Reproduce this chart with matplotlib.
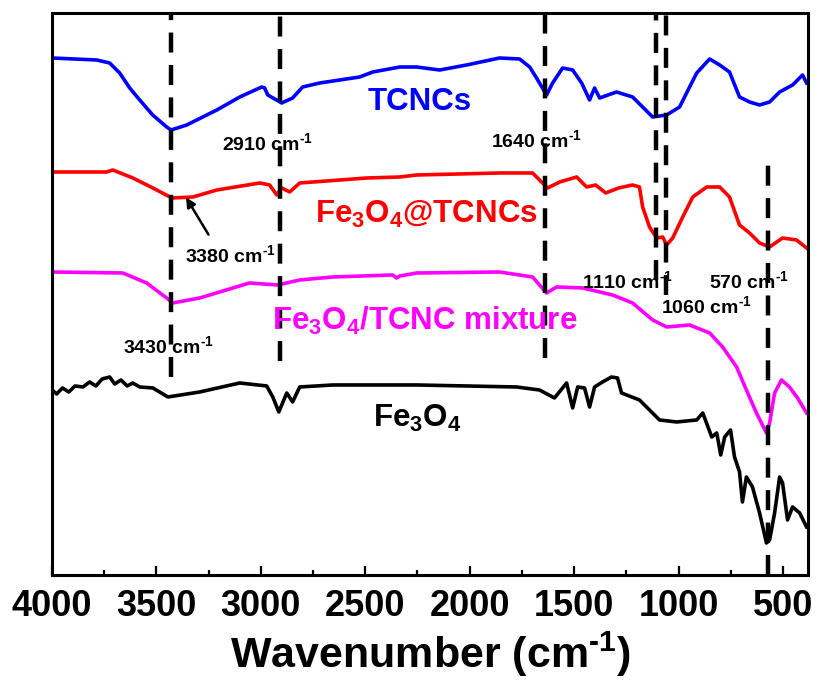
import matplotlib
matplotlib.use("Agg")
import matplotlib.pyplot as plt

# FTIR spectra, stacked with offsets (transmittance in a.u.)
wn_tcnc = [4000, 3786, 3724, 3676, 3628, 3580, 3518, 3451, 3430, 3355, 3211, 3101,
           2996, 2982, 2967, 2900, 2848, 2800, 2718, 2527, 2464, 2335, 2254, 2144,
           2015, 1857, 1761, 1713, 1680, 1632, 1603, 1555, 1507, 1464, 1426, 1402,
           1378, 1297, 1220, 1172, 1124, 1057, 995, 947, 913, 851, 803, 756, 708,
           660, 612, 564, 516, 454, 406, 387]
t_tcnc = [517, 515, 512, 502, 487, 475, 460, 448, 445, 450, 465, 478,
          488, 487, 480, 472, 477, 488, 492, 498, 503, 508, 508, 505,
          510, 517, 516, 508, 497, 480, 492, 507, 505, 492, 475, 487,
          477, 483, 478, 468, 458, 460, 468, 488, 502, 516, 510, 503, 478,
          473, 470, 473, 483, 490, 500, 492]

wn_fe_at = [4000, 3738, 3709, 3613, 3517, 3426, 3325, 3211, 3005, 2958, 2924, 2900,
            2862, 2814, 2493, 2335, 2254, 1857, 1699, 1651, 1627, 1569, 1488, 1440,
            1397, 1349, 1287, 1220, 1187, 1172, 1139, 1105, 1076, 1057, 1028, 980,
            932, 865, 803, 756, 708, 660, 612, 564, 502, 435, 387]
t_fe_at = [403, 403, 405, 397, 387, 377, 378, 385, 392, 390, 380, 387,
           383, 392, 397, 398, 400, 402, 402, 392, 387, 393, 398, 388,
           390, 382, 387, 390, 388, 368, 348, 337, 338, 330, 337, 358,
           378, 388, 388, 378, 350, 342, 332, 328, 337, 335, 327]

wn_mix = [4000, 3661, 3547, 3451, 3422, 3293, 3054, 2920, 2814, 2656, 2369, 2350,
          2335, 2254, 1857, 1699, 1632, 1584, 1459, 1316, 1220, 1124, 1057, 947,
          851, 789, 722, 675, 627, 579, 564, 540, 507, 469, 430, 387]
t_mix = [303, 302, 292, 277, 272, 277, 292, 290, 295, 298, 300, 297,
         299, 302, 303, 298, 282, 288, 287, 280, 272, 255, 248, 250,
         242, 228, 208, 185, 162, 142, 152, 182, 195, 188, 177, 162]

wn_fe = [4000, 3978, 3950, 3920, 3890, 3852, 3820, 3790, 3760, 3724, 3700, 3670,
         3640, 3613, 3580, 3517, 3445, 3293, 3101, 2972, 2943, 2914, 2876, 2848,
         2814, 2656, 2335, 2254, 1776, 1666, 1594, 1536, 1507, 1483, 1450, 1426,
         1402, 1364, 1321, 1292, 1273, 1187, 1091, 1009, 913, 884, 841, 817, 798,
         779, 751, 732, 708, 694, 675, 646, 612, 579, 564, 540, 516, 502, 478,
         454, 420, 387]
t_fe = [185, 181, 187, 183, 189, 188, 193, 189, 196, 198, 191, 195,
        189, 192, 188, 187, 178, 183, 192, 189, 178, 163, 182, 173,
        188, 190, 190, 190, 188, 185, 177, 192, 167, 188, 187, 168,
        188, 193, 198, 197, 182, 175, 155, 153, 155, 162, 138, 142, 120,
        138, 145, 118, 103, 73, 98, 88, 62, 32, 35, 62, 98, 92, 55,
        68, 62, 48]

# characteristic bands: position, lower end, upper end of the guide line
band_wn = [3430, 2910, 1640, 1110, 1060, 570]
band_lo = [198, 214, 217, 295, 280, 0]
band_hi = [562, 562, 562, 562, 562, 420]

# band labels: text, wavenumber (left edge), baseline height
sup = r"$^{\text{-1}}$"
band_text = ["2910 cm" + sup, "1640 cm" + sup, "3380 cm" + sup, "3430 cm" + sup,
             "1110 cm" + sup, "570 cm" + sup, "1060 cm" + sup]
band_tx = [3188, 1900, 3365, 3662, 1464, 856, 1086]
band_ty = [425, 428, 313, 222, 287, 287, 262]

names = ["TCNCs", "Fe$_3$O$_4$@TCNCs", "Fe$_3$O$_4$/TCNC mixture", "Fe$_3$O$_4$"]
colors = ["#0000ff", "#ff0000", "#ff00ff", "#000000"]
name_x = [2240, 2206, 2215, 2249]
name_y = [465, 352, 245, 148]

plt.rcParams["font.family"] = ["Liberation Sans", "DejaVu Sans"]
plt.rcParams["font.weight"] = "bold"
plt.rcParams["mathtext.fontset"] = "custom"
plt.rcParams["mathtext.rm"] = "Liberation Sans:bold"
plt.rcParams["mathtext.it"] = "Liberation Sans:bold"
plt.rcParams["mathtext.bf"] = "Liberation Sans:bold"
plt.rcParams["mathtext.default"] = "rm"

fig = plt.figure(figsize=(8.18, 6.84), dpi=100)
ax = fig.add_axes([0.0636, 0.1594, 0.9242, 0.8216])

spectra = [(wn_tcnc, t_tcnc), (wn_fe_at, t_fe_at), (wn_mix, t_mix), (wn_fe, t_fe)]
for (wn, t), c in zip(spectra, colors):
    ax.plot(wn, t, color=c, lw=2.6, solid_joinstyle="round")

for w, lo, hi in zip(band_wn, band_lo, band_hi):
    ax.plot([w, w], [lo, hi], color="black", lw=3.2, dashes=(4.5, 2.8))

for s, x, y in zip(band_text, band_tx, band_ty):
    ax.text(x, y, s, fontsize=14, fontweight="bold", ha="left", va="baseline")

for s, x, y, c in zip(names, name_x, name_y, colors):
    ax.text(x, y, s, fontsize=22.5, fontweight="bold", color=c, ha="center", va="baseline")

ax.annotate("", xy=(3365, 380), xytext=(3244, 338),
            arrowprops=dict(arrowstyle="-|>", color="black", lw=1.8, mutation_scale=14))

ax.set_xlim(4000, 380)
ax.set_ylim(0, 562)
ax.set_xticks([4000, 3500, 3000, 2500, 2000, 1500, 1000, 500])
ax.set_xticks([3750, 3250, 2750, 2250, 1750, 1250, 750], minor=True)
ax.set_yticks([])
ax.tick_params(axis="x", which="major", direction="in", length=6.5, width=1.6,
               pad=10, labelsize=26)
ax.tick_params(axis="x", which="minor", direction="in", length=3.5, width=1.6)
for sp in ax.spines.values():
    sp.set_linewidth(2.2)

ax.set_xlabel("Wavenumber (cm" + sup + ")", fontsize=31, fontweight="bold", labelpad=4)

fig.savefig("out.png", dpi=100)
